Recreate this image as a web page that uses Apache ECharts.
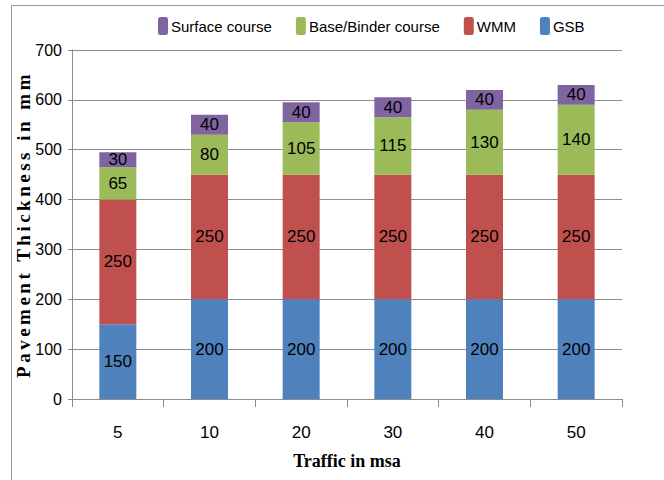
<!DOCTYPE html>
<html>
<head>
<meta charset="utf-8">
<script src="https://cdn.jsdelivr.net/npm/echarts@6/dist/echarts.min.js"></script>
<style>
html,body{margin:0;padding:0;background:#fff;}
#main{width:664px;height:480px;}
</style>
</head>
<body>
<div id="main"></div>
<script>
var categories = ['5', '10', '20', '30', '40', '50'];
var gsb = [150, 200, 200, 200, 200, 200];
var wmm = [250, 250, 250, 250, 250, 250];
var baseBinder = [65, 80, 105, 115, 130, 140];
var surface = [30, 40, 40, 40, 40, 40];
var legendOrder = ['Surface course', 'Base/Binder course', 'WMM', 'GSB'];
var yTicks = [0, 700, 100];

var sans = "'Liberation Sans', Arial, sans-serif";
var serif = "'Liberation Serif', 'Times New Roman', serif";

function mk(name, data, color) {
  return {
    name: name,
    type: 'bar',
    stack: 'total',
    data: data,
    barWidth: 37,
    itemStyle: { color: color },
    label: {
      show: true,
      position: 'inside',
      color: '#000',
      fontFamily: sans,
      fontSize: 17
    }
  };
}

var chart = echarts.init(document.getElementById('main'), null, { renderer: 'svg' });
chart.setOption({
  animation: false,
  backgroundColor: '#fff',
  graphic: [{
    type: 'rect',
    shape: { x: 11.5, y: 5.5, width: 700, height: 600 },
    style: { fill: 'none', stroke: '#9a9a9a', lineWidth: 1 },
    silent: true
  }],
  legend: {
    data: legendOrder,
    top: 12,
    left: 153,
    itemWidth: 10,
    itemHeight: 18,
    itemGap: 24,
    textStyle: { fontFamily: sans, fontSize: 15, color: '#000', padding: [0, 0, 0, -2] }
  },
  grid: { left: 72, right: 42, top: 50, bottom: 81, containLabel: false, outerBoundsMode: 'none' },
  xAxis: {
    type: 'category',
    data: categories,
    name: 'Traffic in msa',
    nameLocation: 'middle',
    nameGap: 53,
    nameMoveOverlap: false,
    nameTextStyle: { fontFamily: serif, fontWeight: 'bold', fontSize: 18, color: '#000' },
    axisLine: { lineStyle: { color: '#8c8c8c' } },
    axisTick: { show: true, length: 8, lineStyle: { color: '#8c8c8c' } },
    axisLabel: { fontFamily: sans, fontSize: 17, color: '#000', margin: 25 }
  },
  yAxis: {
    type: 'value',
    min: yTicks[0],
    max: yTicks[1],
    interval: yTicks[2],
    name: 'Pavement Thickness in mm',
    nameLocation: 'middle',
    nameGap: 39,
    nameMoveOverlap: false,
    nameTextStyle: { fontFamily: serif, fontWeight: 'bold', fontSize: 19, color: '#000' },
    axisLine: { show: true, lineStyle: { color: '#8c8c8c' } },
    axisTick: { show: true, length: 4, lineStyle: { color: '#8c8c8c' } },
    splitLine: { lineStyle: { color: '#8c8c8c' } },
    axisLabel: { fontFamily: sans, fontSize: 16, color: '#000', margin: 10 }
  },
  series: [
    mk('GSB', gsb, '#4F81BD'),
    mk('WMM', wmm, '#C0504D'),
    mk('Base/Binder course', baseBinder, '#9BBB59'),
    mk('Surface course', surface, '#8064A2')
  ]
});
function spaceTitle() {
  var texts = document.querySelectorAll('#main text');
  for (var i = 0; i < texts.length; i++) {
    if (texts[i].textContent.indexOf('Pavement') === 0) {
      texts[i].setAttribute('letter-spacing', '3.5');
    }
  }
}
chart.on('finished', spaceTitle);
setTimeout(spaceTitle, 50);
</script>
</body>
</html>
